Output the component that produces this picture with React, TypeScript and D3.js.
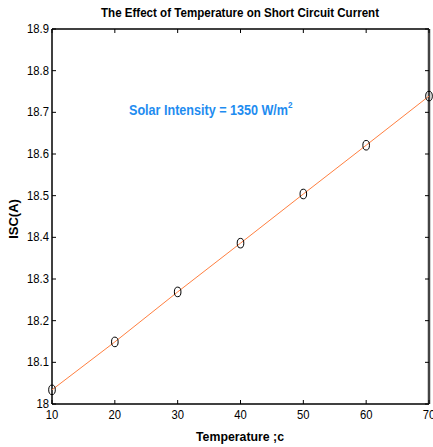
import React from "react";
import * as d3 from "d3";

const temperatures = [10, 20, 30, 40, 50, 60, 70];
const iscValues = [18.034, 18.149, 18.269, 18.386, 18.504, 18.621, 18.739];
const xTicks = [10, 20, 30, 40, 50, 60, 70];
const yTicks = [18, 18.1, 18.2, 18.3, 18.4, 18.5, 18.6, 18.7, 18.8, 18.9];

const W = 433, H = 447;
const L = 52, R = 429, T = 29, B = 404;

export default function App() {
  const x = d3.scaleLinear().domain([10, 70]).range([L, R]);
  const y = d3.scaleLinear().domain([18, 18.9]).range([B, T]);
  const pts = temperatures.map((t, i) => [t, iscValues[i]] as [number, number]);
  const line = d3.line<[number, number]>().x(d => x(d[0])).y(d => y(d[1]));
  const font = "'Liberation Sans', Arial, sans-serif";
  return (
    <svg width={W} height={H} style={{ position: "absolute", left: 0, top: 0, background: "#fff" }} fontFamily={font}>
      <rect x={0} y={0} width={W} height={H} fill="#fff" />
      <text x={240} y={17} textAnchor="middle" fontSize={12} fontWeight="bold" textLength={278} lengthAdjust="spacingAndGlyphs">The Effect of Temperature on Short Circuit Current</text>
      {/* axes box */}
      <line x1={L} y1={T} x2={R} y2={T} stroke="#000" strokeWidth={1.5} />
      <line x1={L} y1={B} x2={R} y2={B} stroke="#000" strokeWidth={1.5} />
      <line x1={L} y1={T} x2={L} y2={B} stroke="#000" strokeWidth={1.5} />
      <line x1={R} y1={T} x2={R} y2={B} stroke="#444" strokeWidth={2.5} />
      {xTicks.map(t => (
        <g key={"x" + t}>
          <line x1={x(t)} x2={x(t)} y1={B} y2={B - 4} stroke="#000" />
          <line x1={x(t)} x2={x(t)} y1={T} y2={T + 4} stroke="#000" />
          <text x={x(t)} y={B + 15} textAnchor="middle" fontSize={12.5} transform={`translate(${x(t)},0) scale(0.9,1) translate(${-x(t)},0)`}>{t}</text>
        </g>
      ))}
      {yTicks.map(t => (
        <g key={"y" + t}>
          <line x1={L} x2={L + 4} y1={y(t)} y2={y(t)} stroke="#000" />
          <line x1={R} x2={R - 4} y1={y(t)} y2={y(t)} stroke="#000" />
          <text x={L - 3} y={y(t) + 4} textAnchor="end" fontSize={12.5} transform={`translate(${L - 3},0) scale(0.9,1) translate(${-(L - 3)},0)`}>{d3.format(".1~f")(t)}</text>
        </g>
      ))}
      <path d={line(pts) || ""} fill="none" stroke="#FF7F40" strokeWidth={1} />
      {pts.map((p, i) => (
        <ellipse key={i} cx={x(p[0])} cy={y(p[1])} rx={3.3} ry={4.8} fill="none" stroke="#000" strokeWidth={1} />
      ))}
      <text x={0} y={0} transform="translate(129,115) scale(0.9,1)" fontSize={14} fontWeight="bold" fill="#1E8CF0">
        Solar Intensity = 1350 W/m<tspan dy={-7} fontSize={9}>2</tspan>
      </text>
      <text x={240} y={441} textAnchor="middle" fontSize={12.5} fontWeight="bold" textLength={88} lengthAdjust="spacingAndGlyphs">Temperature ;c</text>
      <text transform={`translate(18,219) rotate(-90)`} textAnchor="middle" fontSize={13} fontWeight="bold">ISC(A)</text>
    </svg>
  );
}
